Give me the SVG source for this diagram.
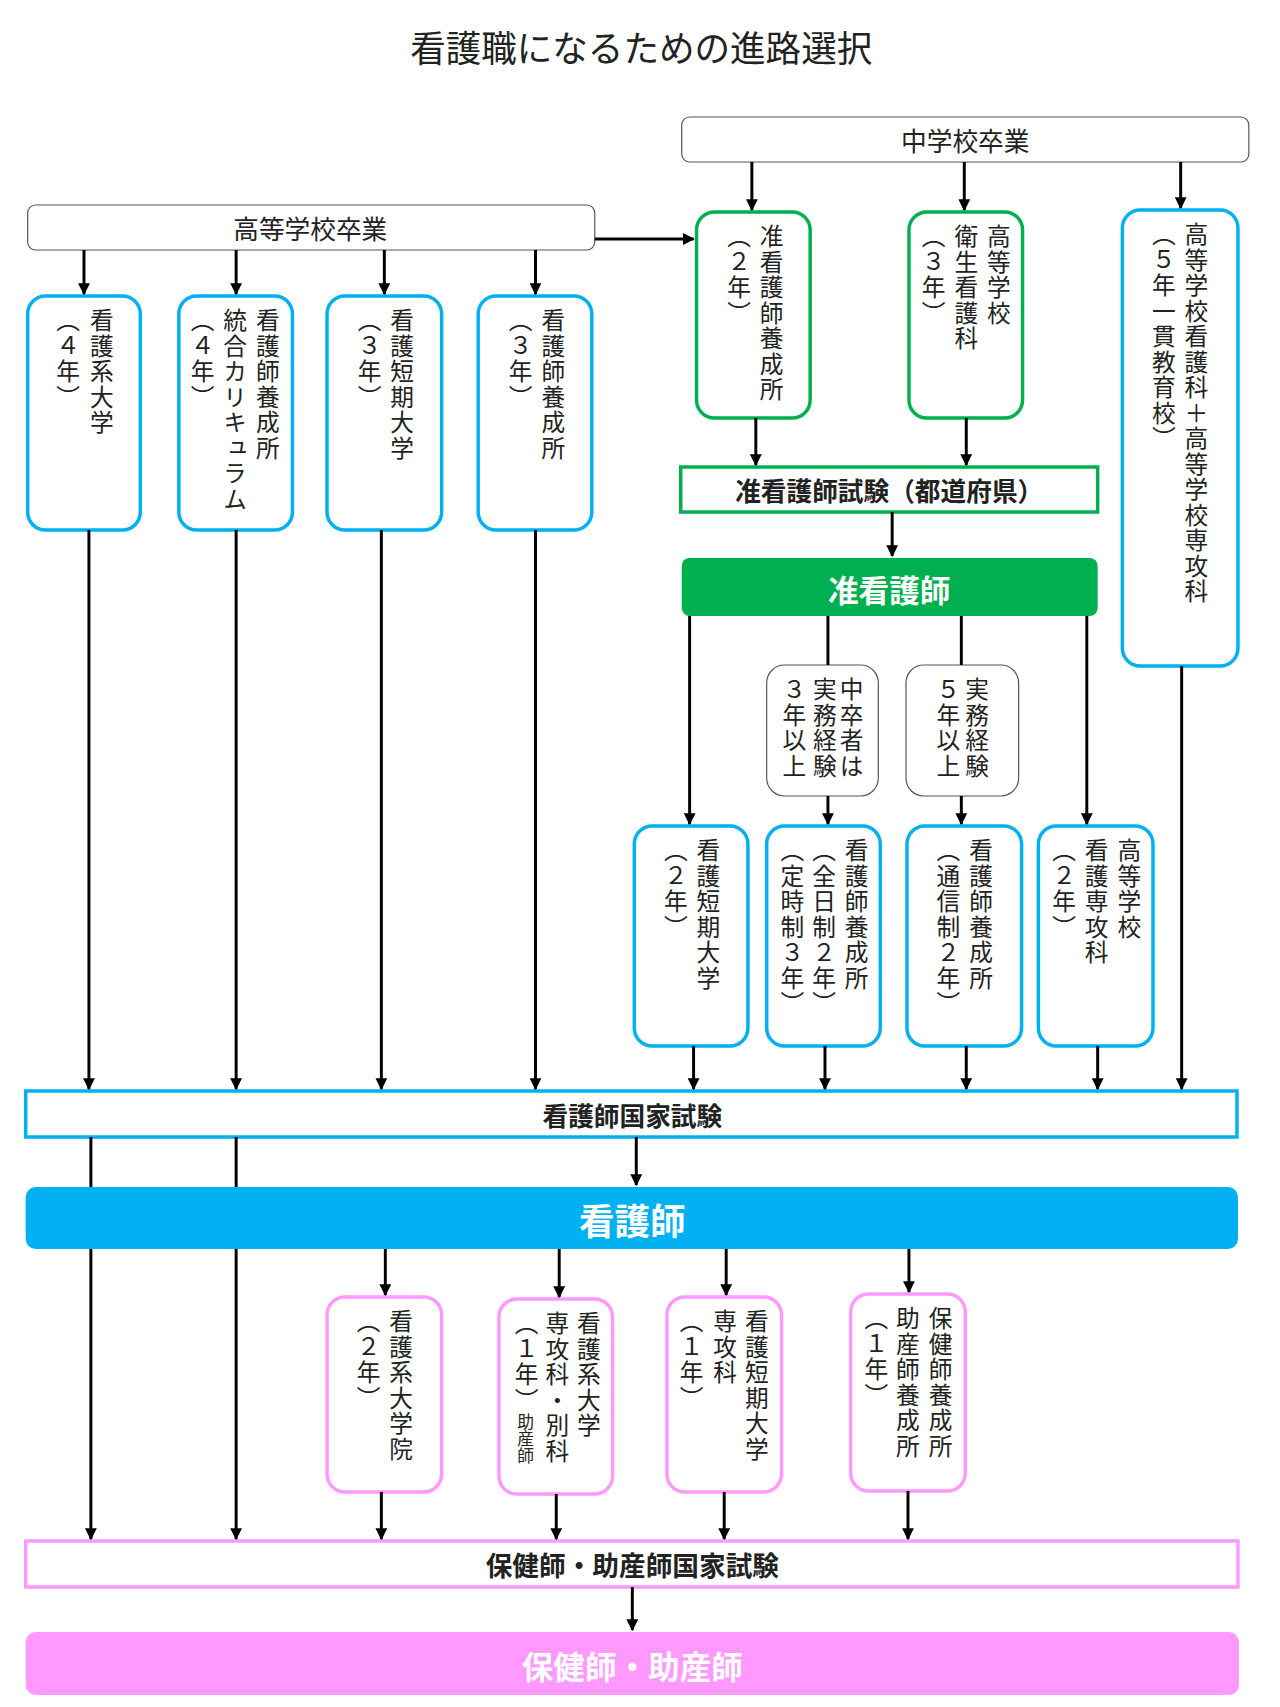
<svg xmlns="http://www.w3.org/2000/svg" width="1280" height="1707" viewBox="0 0 1280 1707">
<defs>
<marker id="ah" viewBox="0 0 10 10" refX="9" refY="5" markerWidth="4" markerHeight="4" orient="auto"><path d="M0,0L10,5L0,10z" fill="#000"/></marker>
<style>
text{font-family:"Noto Sans CJK JP","Liberation Sans",sans-serif;fill:#222}
.v{writing-mode:vertical-rl;font-size:24px;letter-spacing:1.5px}
.h{text-anchor:middle;dominant-baseline:central}
.b{font-weight:bold}
.w{fill:#fff;font-weight:bold}
.g{fill:#fff;stroke:#555;stroke-width:1.2}
.bl{fill:#fff;stroke:#00B0F0;stroke-width:3.5}
.gr{fill:#fff;stroke:#00B050;stroke-width:3.5}
.pk{fill:#fff;stroke:#FF99FF;stroke-width:3.5}
.c line{stroke:#000;stroke-width:3}
.c line.a{marker-end:url(#ah)}
</style>
</defs>
<g transform="scale(0.988 1)">
<text class="h" x="649" y="46" font-size="36">看護職になるための進路選択</text>
<g id="chu"><rect class="g" x="690" y="117" width="574" height="45" rx="8"/><text class="h" x="977" y="139" font-size="26">中学校卒業</text></g>
<g id="kou"><rect class="g" x="28" y="205" width="574" height="45" rx="8"/><text class="h" x="314" y="227" font-size="26">高等学校卒業</text></g>
<g id="n1"><rect class="bl" x="28" y="296" width="114" height="234" rx="18"/><text class="v" x="103" y="308">看護系大学</text><text class="v" x="69" y="308">（４年）</text></g>
<g id="n2"><rect class="bl" x="181" y="296" width="115" height="234" rx="18"/><text class="v" x="271" y="308">看護師養成所</text><text class="v" x="238" y="308">統合カリキュラム</text><text class="v" x="205" y="308">（４年）</text></g>
<g id="n3"><rect class="bl" x="331" y="296" width="116" height="234" rx="18"/><text class="v" x="407" y="308">看護短期大学</text><text class="v" x="374" y="308">（３年）</text></g>
<g id="n4"><rect class="bl" x="484" y="296" width="115" height="234" rx="18"/><text class="v" x="560" y="308">看護師養成所</text><text class="v" x="527" y="308">（３年）</text></g>
<g id="g1"><rect class="gr" x="705" y="212" width="115" height="206" rx="18"/><text class="v" x="781" y="224">准看護師養成所</text><text class="v" x="748" y="224">（２年）</text></g>
<g id="g2"><rect class="gr" x="920" y="212" width="115" height="206" rx="18"/><text class="v" x="1011" y="224">高等学校</text><text class="v" x="978" y="224">衛生看護科</text><text class="v" x="945" y="224">（３年）</text></g>
<g id="r1"><rect class="bl" x="1136" y="210" width="117" height="456" rx="18"/><text class="v" x="1211" y="222">高等学校看護科＋高等学校専攻科</text><text class="v" x="1178" y="222">（５年一貫教育校）</text></g>
<g id="exam1"><rect x="689" y="467" width="422" height="45" fill="#fff" stroke="#00B050" stroke-width="3.5"/><text class="h b" x="900" y="489" font-size="26">准看護師試験（都道府県）</text></g>
<g id="jun"><rect x="690" y="558" width="421" height="58" rx="8" fill="#00B050"/><text class="h w" x="900" y="588" font-size="31">准看護師</text></g>
<g id="e1"><rect class="g" x="776" y="665" width="113" height="131" rx="18"/><text class="v" x="862" y="677">中卒者は</text><text class="v" x="835" y="677">実務経験</text><text class="v" x="804" y="677">３年以上</text></g>
<g id="e2"><rect class="g" x="917" y="665" width="114" height="131" rx="18"/><text class="v" x="989" y="677">実務経験</text><text class="v" x="960" y="677">５年以上</text></g>
<g id="b1"><rect class="bl" x="642" y="826" width="115" height="220" rx="18"/><text class="v" x="717" y="838">看護短期大学</text><text class="v" x="684" y="838">（２年）</text></g>
<g id="b2"><rect class="bl" x="776" y="826" width="115" height="220" rx="18"/><text class="v" x="867" y="838">看護師養成所</text><text class="v" x="834" y="838">（全日制２年）</text><text class="v" x="802" y="838">（定時制３年）</text></g>
<g id="b3"><rect class="bl" x="918" y="826" width="116" height="220" rx="18"/><text class="v" x="993" y="838">看護師養成所</text><text class="v" x="960" y="838">（通信制２年）</text></g>
<g id="b4"><rect class="bl" x="1051" y="826" width="116" height="220" rx="18"/><text class="v" x="1143" y="838">高等学校</text><text class="v" x="1110" y="838">看護専攻科</text><text class="v" x="1077" y="838">（２年）</text></g>
<g id="exam2"><rect x="26" y="1091" width="1226" height="46" fill="#fff" stroke="#00B0F0" stroke-width="3.5"/><text class="h b" x="640" y="1114" font-size="26">看護師国家試験</text></g>
<g id="kango"><rect x="26" y="1187" width="1227" height="62" rx="10" fill="#00B0F0"/><text class="h w" x="640" y="1219" font-size="36">看護師</text></g>
<g id="p1"><rect class="pk" x="331" y="1297" width="116" height="195" rx="18"/><text class="v" x="406" y="1309">看護系大学院</text><text class="v" x="373" y="1309">（２年）</text></g>
<g id="p2"><rect class="pk" x="505" y="1299" width="115" height="195" rx="18"/><text class="v" x="596" y="1311">看護系大学</text><text class="v" x="564" y="1311">専攻科・別科</text><text class="v" x="533" y="1311">（１年）</text><text x="532" y="1413" style="writing-mode:vertical-rl;font-size:17px">助産師</text></g>
<g id="p3"><rect class="pk" x="675" y="1297" width="116" height="195" rx="18"/><text class="v" x="766" y="1309">看護短期大学</text><text class="v" x="734" y="1309">専攻科</text><text class="v" x="700" y="1309">（１年）</text></g>
<g id="p4"><rect class="pk" x="861" y="1294" width="116" height="197" rx="18"/><text class="v" x="952" y="1306">保健師養成所</text><text class="v" x="919" y="1306">助産師養成所</text><text class="v" x="887" y="1306">（１年）</text></g>
<g id="exam3"><rect x="26" y="1541" width="1227" height="46" fill="#fff" stroke="#FF99FF" stroke-width="3.5"/><text class="h b" x="640" y="1564" font-size="27">保健師・助産師国家試験</text></g>
<g id="hoken"><rect x="26" y="1632" width="1228" height="63" rx="10" fill="#FF99FF"/><text class="h w" x="640" y="1665" font-size="32">保健師・助産師</text></g>
<g class="c">
<line class="a" x1="761" y1="162" x2="761" y2="210"/>
<line class="a" x1="976" y1="162" x2="976" y2="210"/>
<line class="a" x1="1195" y1="162" x2="1195" y2="208"/>
<line class="a" x1="602" y1="239" x2="702" y2="239"/>
<line class="a" x1="85" y1="250" x2="85" y2="294"/>
<line class="a" x1="239" y1="250" x2="239" y2="294"/>
<line class="a" x1="389" y1="250" x2="389" y2="294"/>
<line class="a" x1="542" y1="250" x2="542" y2="294"/>
<line class="a" x1="765" y1="418" x2="765" y2="465"/>
<line class="a" x1="978" y1="418" x2="978" y2="465"/>
<line class="a" x1="903" y1="512" x2="903" y2="556"/>
<line class="a" x1="698" y1="616" x2="698" y2="824"/>
<line x1="838" y1="616" x2="838" y2="665"/>
<line x1="973" y1="616" x2="973" y2="665"/>
<line class="a" x1="1100" y1="616" x2="1100" y2="824"/>
<line class="a" x1="838" y1="796" x2="838" y2="824"/>
<line class="a" x1="973" y1="796" x2="973" y2="824"/>
<line class="a" x1="90" y1="530" x2="90" y2="1089"/>
<line class="a" x1="239" y1="530" x2="239" y2="1089"/>
<line class="a" x1="386" y1="530" x2="386" y2="1089"/>
<line class="a" x1="542" y1="530" x2="542" y2="1089"/>
<line class="a" x1="702" y1="1046" x2="702" y2="1089"/>
<line class="a" x1="835" y1="1046" x2="835" y2="1089"/>
<line class="a" x1="978" y1="1046" x2="978" y2="1089"/>
<line class="a" x1="1111" y1="1046" x2="1111" y2="1089"/>
<line class="a" x1="1196" y1="666" x2="1196" y2="1089"/>
<line class="a" x1="644" y1="1137" x2="644" y2="1185"/>
<line x1="92" y1="1137" x2="92" y2="1187"/>
<line x1="239" y1="1137" x2="239" y2="1187"/>
<line class="a" x1="92" y1="1249" x2="92" y2="1539"/>
<line class="a" x1="239" y1="1249" x2="239" y2="1539"/>
<line class="a" x1="390" y1="1249" x2="390" y2="1295"/>
<line class="a" x1="566" y1="1249" x2="566" y2="1297"/>
<line class="a" x1="735" y1="1249" x2="735" y2="1295"/>
<line class="a" x1="920" y1="1249" x2="920" y2="1292"/>
<line class="a" x1="386" y1="1492" x2="386" y2="1539"/>
<line class="a" x1="563" y1="1494" x2="563" y2="1539"/>
<line class="a" x1="733" y1="1492" x2="733" y2="1539"/>
<line class="a" x1="919" y1="1491" x2="919" y2="1539"/>
<line class="a" x1="640" y1="1587" x2="640" y2="1630"/>
</g>
</g>
</svg>
